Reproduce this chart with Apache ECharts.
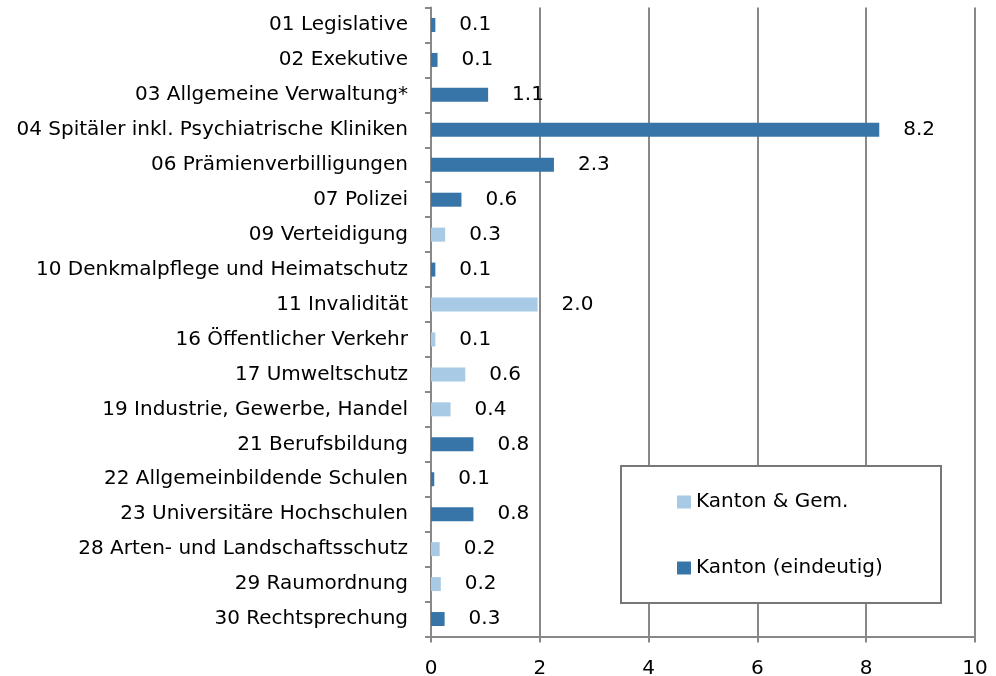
<!DOCTYPE html>
<html><head><meta charset="utf-8">
<script src="https://cdn.jsdelivr.net/npm/echarts@6/dist/echarts.min.js"></script>
<style>html,body{margin:0;padding:0;background:#fff}#c{width:996px;height:676px}</style>
</head><body><div id="c"></div>
<script>
const categories = [
  "01 Legislative","02 Exekutive","03 Allgemeine Verwaltung*",
  "04 Spitäler inkl. Psychiatrische Kliniken","06 Prämienverbilligungen","07 Polizei",
  "09 Verteidigung","10 Denkmalpflege und Heimatschutz","11 Invalidität",
  "16 Öffentlicher Verkehr","17 Umweltschutz","19 Industrie, Gewerbe, Handel",
  "21 Berufsbildung","22 Allgemeinbildende Schulen","23 Universitäre Hochschulen",
  "28 Arten- und Landschaftsschutz","29 Raumordnung","30 Rechtsprechung"
];
const seriesNames = ["Kanton & Gem.", "Kanton (eindeutig)"];
const kantonGem = ['-','-','-','-','-','-',0.26,'-',1.96,0.08,0.63,0.36,'-','-','-',0.16,0.18,'-'];
const kantonEind = [0.08,0.12,1.05,8.24,2.26,0.56,'-',0.08,'-','-','-','-',0.78,0.06,0.78,'-','-',0.25];
const xTicks = [0,2,4,6,8,10];

const FONT = "DejaVu Sans";
const chart = echarts.init(document.getElementById('c'), null, {renderer:'canvas'});
const lbl = {
  show:true, position:'right', distance:24, color:'#000', fontSize:20, fontFamily:FONT,
  formatter: p => Number(p.value).toFixed(1)
};
chart.setOption({
  animation:false,
  textStyle:{fontFamily:FONT},
  grid:{left:431, right:21, top:7.5, bottom:39.5, containLabel:false, outerBoundsMode:'none'},
  xAxis:{
    type:'value', min:xTicks[0], max:xTicks[xTicks.length-1], interval:2,
    axisLine:{show:true, lineStyle:{color:'#888', width:2}},
    axisTick:{show:true, length:6, lineStyle:{color:'#888', width:2}},
    splitLine:{show:true, lineStyle:{color:'#888', width:2}},
    axisLabel:{color:'#000', fontSize:20, fontFamily:FONT, margin:22}
  },
  yAxis:{
    type:'category', data:categories, inverse:true,
    axisLine:{show:true, lineStyle:{color:'#888', width:2}},
    axisTick:{show:true, length:6, lineStyle:{color:'#888', width:2}},
    axisLabel:{color:'#000', fontSize:20, fontFamily:FONT, margin:23}
  },
  legend:{
    orient:'vertical', left:677, top:492, itemGap:46, itemWidth:14, itemHeight:13,
    icon:'rect', padding:0, z:20,
    textStyle:{color:'#000', fontSize:20, fontFamily:FONT},
    data:seriesNames
  },
  graphic:[{type:'rect', left:620, top:465, z:10, shape:{width:320, height:137},
    style:{fill:'#fff', stroke:'#777', lineWidth:2}}],
  series:[
    {name:seriesNames[0], type:'bar', stack:'s', data:kantonGem, barWidth:14,
     itemStyle:{color:'#a8cae4'}, label:lbl},
    {name:seriesNames[1], type:'bar', stack:'s', data:kantonEind, barWidth:14,
     itemStyle:{color:'#3775a9'}, label:lbl}
  ]
});
</script></body></html>
